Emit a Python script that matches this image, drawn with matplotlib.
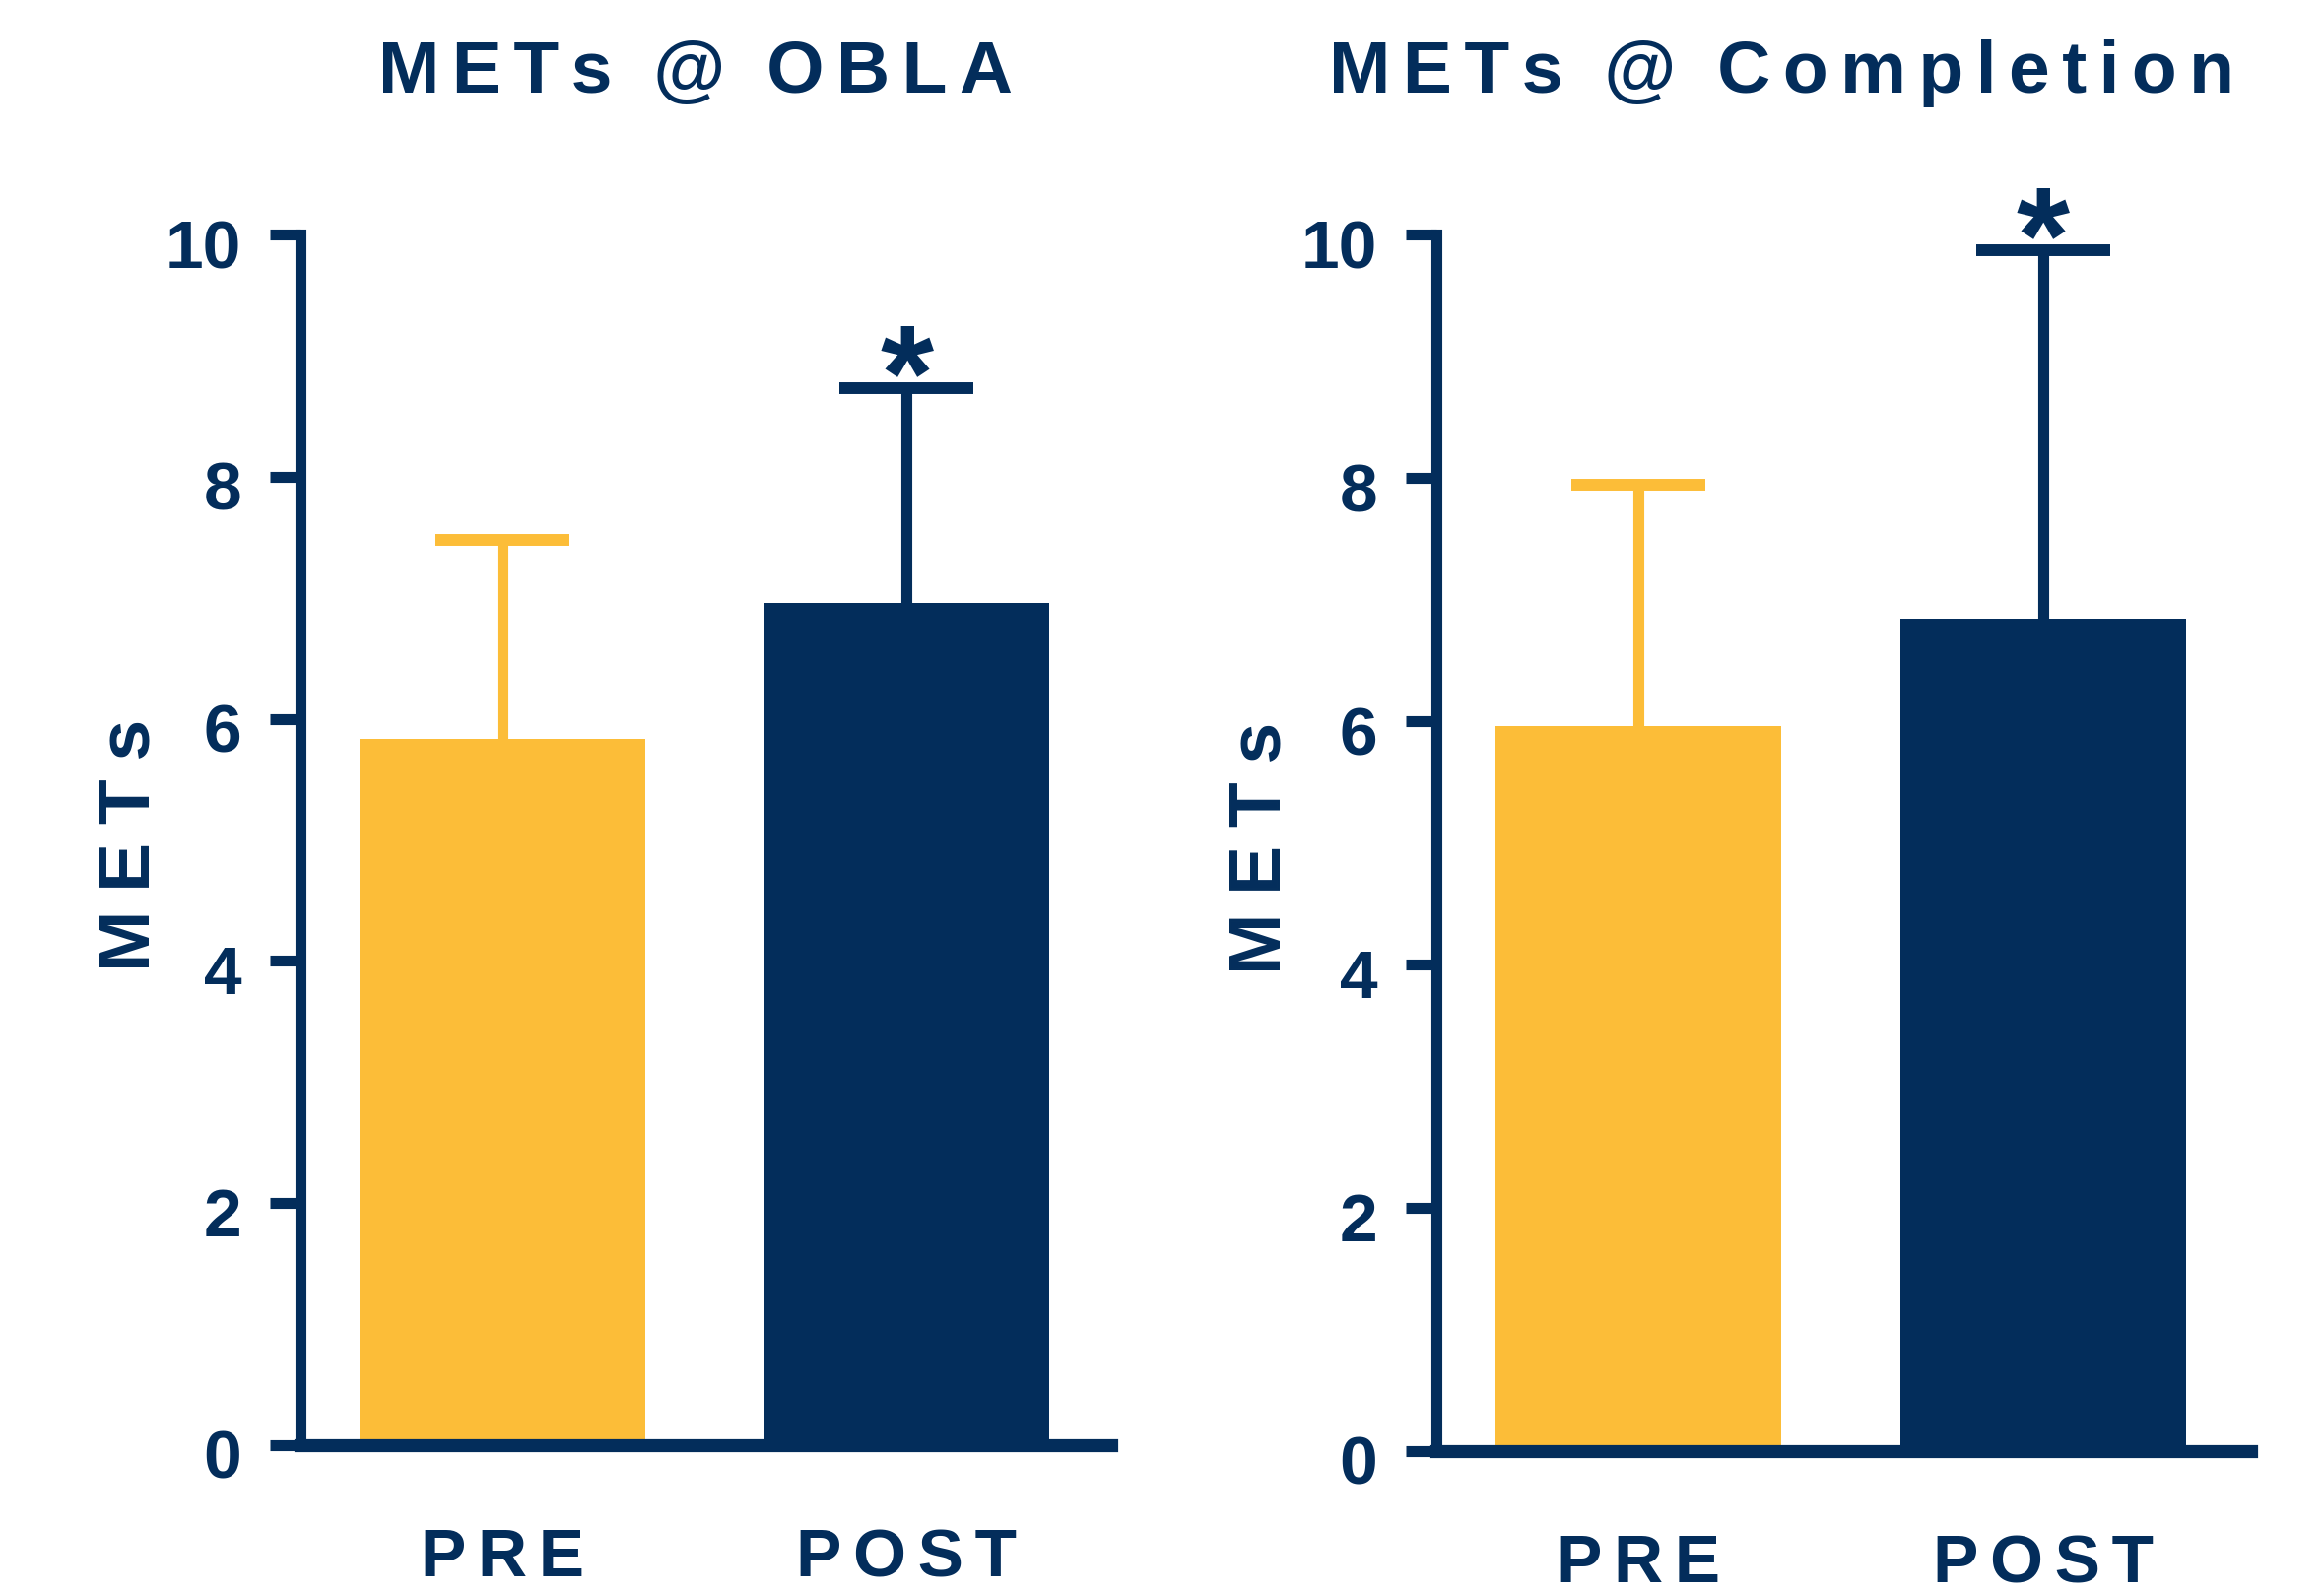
import numpy as np
import matplotlib
matplotlib.use("Agg")
import matplotlib.pyplot as plt
from matplotlib.transforms import ScaledTranslation

# ---- data ----
groups = ["PRE", "POST"]
obla_mean = [5.83, 6.96]
obla_sd = [1.65, 1.77]
completion_mean = [5.96, 6.84]
completion_sd = [1.98, 3.03]
significant = [False, True]
panel_titles = ["METs @ OBLA", "METs @ Completion"]
y_label = "METs"
y_ticks = [0, 2, 4, 6, 8, 10]

NAVY = "#032D5B"
GOLD = "#FCBD38"
bar_colors = [GOLD, NAVY]

plt.rcParams["font.family"] = ["Liberation Sans", "DejaVu Sans"]
plt.rcParams["font.weight"] = "bold"

SIX_PER_EM = "\u2006"
FOUR_PER_EM = "\u2005"

fig = plt.figure(figsize=(23.59, 16.17), dpi=100)
ax_left = fig.add_axes([0.1293, 0.0928, 0.3489, 0.7600])
ax_right = fig.add_axes([0.6181, 0.0891, 0.3506, 0.7637])


def tracked(s, gap):
    """Letter-spaced text; word breaks get a wider gap."""
    words = s.split(" ")
    return "  ".join(gap.join(w) for w in words)


def draw_panel(ax, means, sds, title, title_x, xlim_right, ylabel_x):
    x = np.arange(len(groups))
    ax.bar(x, means, width=0.707, color=bar_colors, zorder=2, linewidth=0)
    for xi, m, s, c, sig in zip(x, means, sds, bar_colors, significant):
        # one-sided (upper) error bar with a flat cap
        ax.plot([xi, xi], [m, m + s], color=c, lw=8, solid_capstyle="butt",
                zorder=1, clip_on=False)
        ax.plot([xi], [m + s], marker="_", ms=98, mew=8.6, color=c,
                zorder=1, clip_on=False)
        if sig:
            ax.annotate("*", xy=(xi, m + s), xytext=(0, -23),
                        textcoords="offset points", ha="center", va="baseline",
                        fontsize=100, fontweight="bold", color=NAVY,
                        annotation_clip=False)

    ax.set_xlim(-0.5, xlim_right)
    ax.set_ylim(0, 10)
    ax.set_yticks(y_ticks)
    ax.set_xticks(x)
    ax.set_xticklabels([tracked(g, SIX_PER_EM) for g in groups])

    for side in ("top", "right"):
        ax.spines[side].set_visible(False)
    ax.spines["left"].set_linewidth(8)
    ax.spines["bottom"].set_linewidth(9.5)
    for side in ("left", "bottom"):
        ax.spines[side].set_color(NAVY)
        ax.spines[side].set_zorder(3)

    ax.tick_params(axis="y", direction="out", length=22, width=8, color=NAVY,
                   labelcolor=NAVY, labelsize=50, pad=21)
    ax.tick_params(axis="x", length=0, labelcolor=NAVY, labelsize=50, pad=60)
    for lab in ax.get_yticklabels():
        lab.set_transform(lab.get_transform() +
                          ScaledTranslation(0, -6.5 / 72, fig.dpi_scale_trans))

    ax.set_ylabel(tracked(y_label, FOUR_PER_EM), fontsize=54,
                  fontweight="bold", color=NAVY)
    ax.yaxis.set_label_coords(ylabel_x, 0.496)
    ax.set_title(tracked(title, SIX_PER_EM), fontsize=54, fontweight="bold",
                 color=NAVY, pad=104, x=title_x)


draw_panel(ax_left, obla_mean, obla_sd, panel_titles[0], 0.487, 1.507, -0.168)
draw_panel(ax_right, completion_mean, completion_sd, panel_titles[1], 0.424,
           1.515, -0.174)

fig.savefig("out.png", dpi=100)
